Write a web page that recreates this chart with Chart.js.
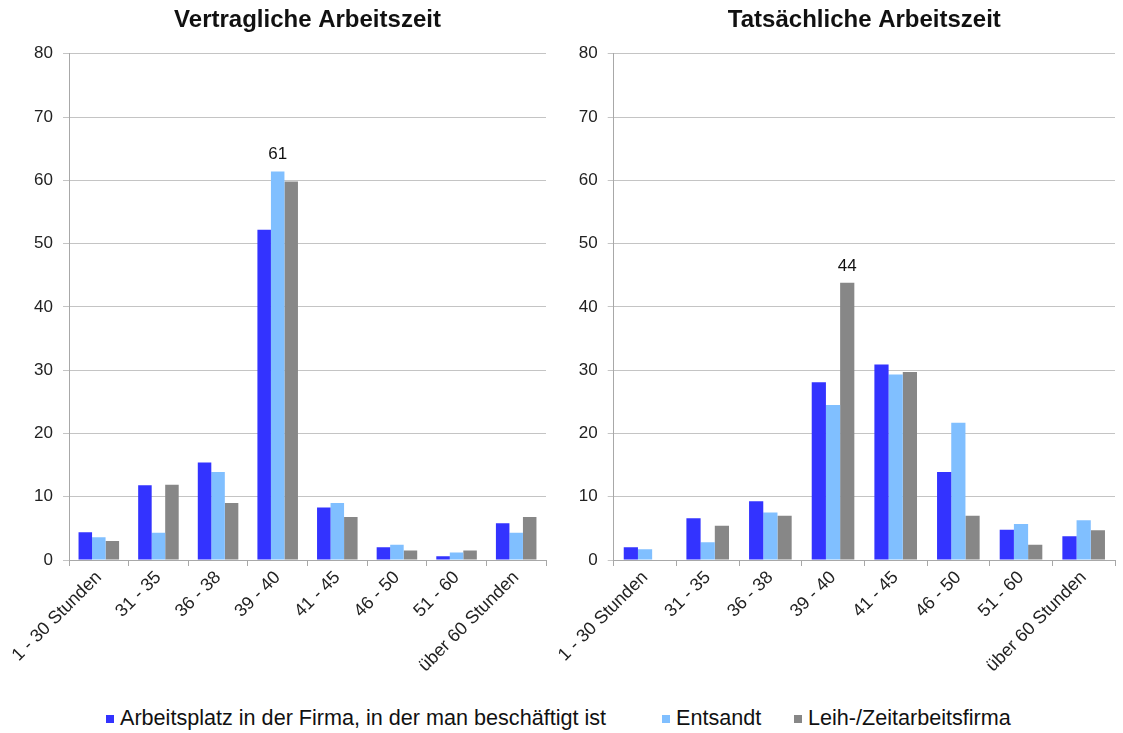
<!DOCTYPE html>
<html>
<head>
<meta charset="utf-8">
<script src="https://cdn.jsdelivr.net/npm/chart.js@4/dist/chart.umd.min.js"></script>
<style>
  body { margin: 0; background: #fff; width: 1123px; height: 733px; overflow: hidden; position: relative; font-family: "Liberation Sans", Arial, sans-serif; }
  #chart-left { position: absolute; left: 0; top: 0; }
  #chart-right { position: absolute; left: 557px; top: 0; }
  #legend { position: absolute; left: 0; top: 704px; width: 1123px; height: 28px; font-size: 21.6px; color: #111; }
  .item { position: absolute; top: 0; white-space: nowrap; line-height: 28px; }
  .item i { display: inline-block; width: 8px; height: 8px; margin-right: 6px; vertical-align: 2px; }
</style>
</head>
<body>
<canvas id="chart-left" width="557" height="690"></canvas>
<canvas id="chart-right" width="566" height="690"></canvas>
<div id="legend"></div>
<script>
var kategorien = ["1 - 30 Stunden", "31 - 35", "36 - 38", "39 - 40", "41 - 45", "46 - 50", "51 - 60", "über 60 Stunden"]
var serien = ["Arbeitsplatz in der Firma, in der man beschäftigt ist", "Entsandt", "Leih-/Zeitarbeitsfirma"]
var farben = ["#3333ff", "#80bfff", "#878787"]

// Vertragliche Arbeitszeit
var vertrag_firma    = [4.4, 11.8, 15.4, 52.2, 8.3, 2.0, 0.6, 5.8]
var vertrag_entsandt = [3.6, 4.3, 13.9, 61.4, 9.0, 2.4, 1.2, 4.3]
var vertrag_leih     = [3.0, 11.9, 9.0, 59.8, 6.8, 1.5, 1.5, 6.8]

// Tatsächliche Arbeitszeit
var tats_firma    = [2.0, 6.6, 9.3, 28.1, 30.9, 13.9, 4.8, 3.75]
var tats_entsandt = [1.7, 2.8, 7.5, 24.5, 29.3, 21.7, 5.7, 6.3]
var tats_leih     = [0, 5.4, 7.0, 43.8, 29.7, 7.0, 2.4, 4.7]

var yTicks = [0, 10, 20, 30, 40, 50, 60, 70, 80]

// welcher Balken bekommt eine Zahl: [dataset, index]
var wertLinks = [1, 3]
var wertRechts = [2, 3]

var fontName = "'Liberation Sans', Arial, sans-serif"

var valueLabel = {
  id: 'valueLabel',
  afterDatasetsDraw: function (chart, args, opts) {
    var ctx = chart.ctx
    var ds = opts.bar[0], idx = opts.bar[1]
    var el = chart.getDatasetMeta(ds).data[idx]
    var v = chart.data.datasets[ds].data[idx]
    ctx.save()
    ctx.font = "17px " + fontName
    ctx.fillStyle = "#111"
    ctx.textAlign = "center"
    ctx.textBaseline = "middle"
    ctx.fillText(String(Math.round(v)), el.x, el.y - 17)
    ctx.restore()
  }
}

function balkenChart(id, titel, d1, d2, d3, yWidth, padRight, markiert) {
  var werte = [d1, d2, d3]
  var datasets = []
  werte.forEach(function (w, i) {
    datasets.push({
      label: serien[i],
      data: w,
      backgroundColor: farben[i],
      borderWidth: 0,
      categoryPercentage: 0.68,
      barPercentage: 1.0
    })
  })

  new Chart(document.getElementById(id), {
    type: 'bar',
    data: { labels: kategorien, datasets: datasets },
    plugins: [valueLabel],
    options: {
      responsive: false,
      animation: false,
      layout: { padding: { left: 0, right: padRight, top: 0, bottom: 0 } },
      plugins: {
        legend: { display: false },
        tooltip: { enabled: false },
        title: {
          display: true,
          text: titel,
          fullSize: false,
          color: '#111',
          font: { family: fontName, size: 24, weight: 'bold' },
          padding: { top: 6, bottom: 19 }
        },
        valueLabel: { bar: markiert }
      },
      scales: {
        x: {
          grid: { offset: true, drawOnChartArea: false, drawTicks: true, tickLength: 6, color: '#a8a8a8' },
          border: { color: '#a8a8a8' },
          ticks: { color: '#222', font: { family: fontName, size: 18 }, minRotation: 45, maxRotation: 45, padding: 1, autoSkip: false },
          afterFit: function (s) { s.height = 130 }
        },
        y: {
          min: yTicks[0],
          max: yTicks[yTicks.length - 1],
          afterBuildTicks: function (s) { s.ticks = yTicks.map(function (v) { return { value: v } }) },
          grid: { color: '#c4c4c4', tickLength: 6 },
          border: { color: '#a8a8a8' },
          ticks: { color: '#222', font: { family: fontName, size: 17 }, padding: 10 },
          afterFit: function (s) { s.width = yWidth }
        }
      }
    }
  })
}

balkenChart("chart-left", "Vertragliche Arbeitszeit", vertrag_firma, vertrag_entsandt, vertrag_leih, 69, 11, wertLinks)
balkenChart("chart-right", "Tatsächliche Arbeitszeit", tats_firma, tats_entsandt, tats_leih, 53, 8, wertRechts)

// Legende unten
var legendLeft = [106, 662, 794]
var legend = document.getElementById("legend")
serien.forEach(function (name, i) {
  var span = document.createElement("span")
  span.className = "item"
  span.style.left = legendLeft[i] + "px"
  var box = document.createElement("i")
  box.style.background = farben[i]
  span.appendChild(box)
  span.appendChild(document.createTextNode(name))
  legend.appendChild(span)
})
</script>
</body>
</html>
